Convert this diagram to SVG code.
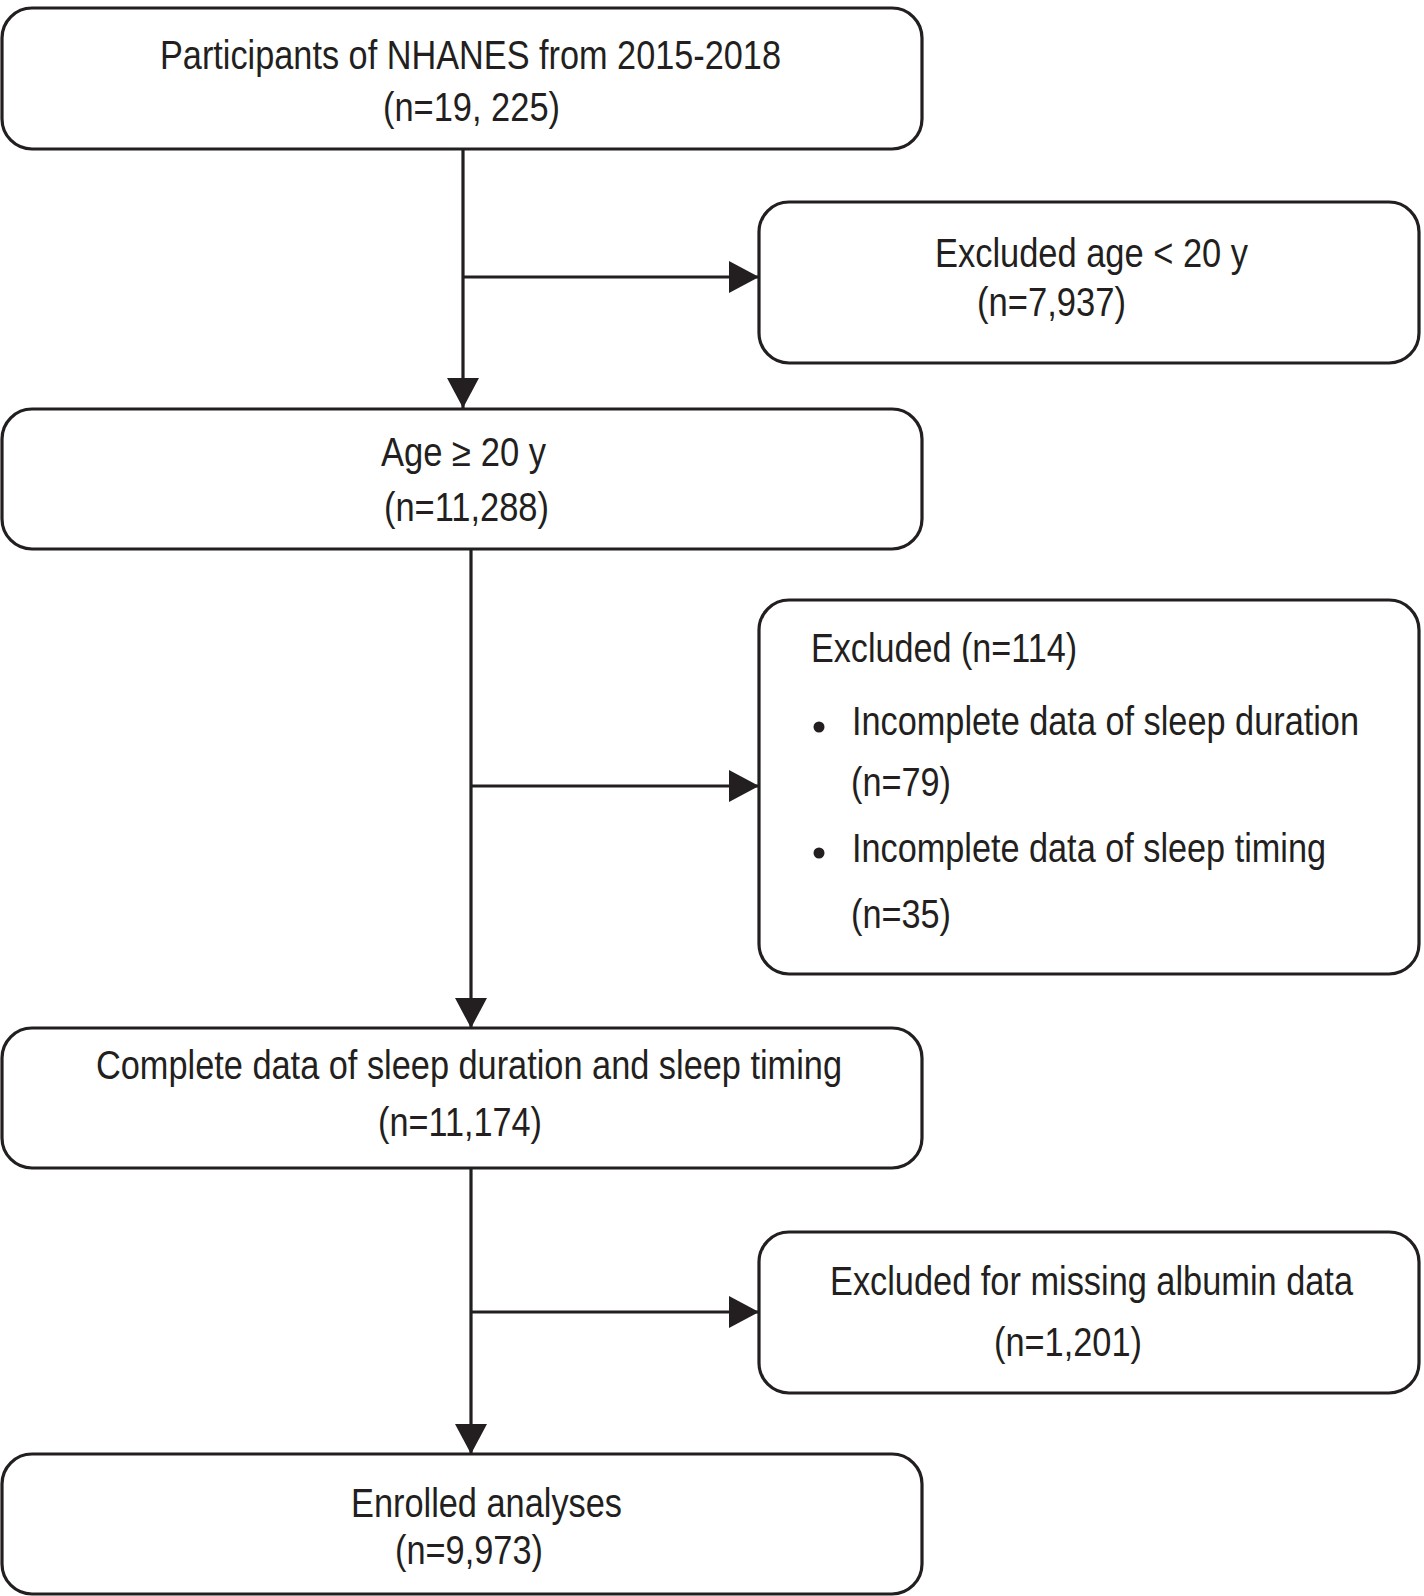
<svg xmlns="http://www.w3.org/2000/svg" width="1424" height="1596" viewBox="0 0 1424 1596">
<style>
.box{fill:#ffffff;stroke:#231f20;stroke-width:3.2}
.t{font-family:"Liberation Sans Narrow","Liberation Sans",Arial,sans-serif;font-size:40px;fill:#231f20}
.c{text-anchor:middle}
.ln{stroke:#231f20;stroke-width:3.2;fill:none}
</style>
<defs>
<marker id="ah" markerUnits="userSpaceOnUse" markerWidth="30" markerHeight="32" refX="30" refY="16" orient="auto">
<path d="M0,0 L30,16 L0,32 Z" fill="#231f20"/>
</marker>
</defs>
<rect width="1424" height="1596" fill="#ffffff"/>
<g id="connectors">
<line class="ln" x1="463" y1="149" x2="463" y2="408" marker-end="url(#ah)"/>
<line class="ln" x1="463" y1="277" x2="759" y2="277" marker-end="url(#ah)"/>
<line class="ln" x1="471" y1="549" x2="471" y2="1028" marker-end="url(#ah)"/>
<line class="ln" x1="471" y1="786" x2="759" y2="786" marker-end="url(#ah)"/>
<line class="ln" x1="471" y1="1168" x2="471" y2="1454" marker-end="url(#ah)"/>
<line class="ln" x1="471" y1="1312" x2="759" y2="1312" marker-end="url(#ah)"/>
</g>
<g id="node-participants">
<rect class="box" x="2" y="8" width="920" height="141" rx="30" ry="30"/>
<text class="t" x="160" y="69" textLength="621" lengthAdjust="spacingAndGlyphs">Participants of NHANES from 2015-2018</text>
<text class="t" x="383" y="121" textLength="177" lengthAdjust="spacingAndGlyphs">(n=19, 225)</text>
</g>
<g id="node-excluded-age">
<rect class="box" x="759" y="202" width="660" height="161" rx="30" ry="30"/>
<text class="t" x="935" y="267" textLength="313" lengthAdjust="spacingAndGlyphs">Excluded age &lt; 20 y</text>
<text class="t" x="977" y="316" textLength="149" lengthAdjust="spacingAndGlyphs">(n=7,937)</text>
</g>
<g id="node-age20">
<rect class="box" x="2" y="409" width="920" height="140" rx="30" ry="30"/>
<text class="t" x="381" y="466" textLength="165" lengthAdjust="spacingAndGlyphs">Age ≥ 20 y</text>
<text class="t" x="384" y="521" textLength="165" lengthAdjust="spacingAndGlyphs">(n=11,288)</text>
</g>
<g id="node-excluded-sleep">
<rect class="box" x="759" y="600" width="660" height="374" rx="30" ry="30"/>
<text class="t" x="811" y="662" textLength="266" lengthAdjust="spacingAndGlyphs">Excluded (n=114)</text>
<circle cx="819" cy="727" r="5.5" fill="#231f20"/>
<text class="t" x="852" y="735" textLength="507" lengthAdjust="spacingAndGlyphs">Incomplete data of sleep duration</text>
<text class="t" x="851" y="796" textLength="100" lengthAdjust="spacingAndGlyphs">(n=79)</text>
<circle cx="819" cy="853" r="5.5" fill="#231f20"/>
<text class="t" x="852" y="862" textLength="474" lengthAdjust="spacingAndGlyphs">Incomplete data of sleep timing</text>
<text class="t" x="851" y="928" textLength="100" lengthAdjust="spacingAndGlyphs">(n=35)</text>
</g>
<g id="node-complete">
<rect class="box" x="2" y="1028" width="920" height="140" rx="30" ry="30"/>
<text class="t" x="96" y="1079" textLength="746" lengthAdjust="spacingAndGlyphs">Complete data of sleep duration and sleep timing</text>
<text class="t" x="378" y="1136" textLength="164" lengthAdjust="spacingAndGlyphs">(n=11,174)</text>
</g>
<g id="node-excluded-albumin">
<rect class="box" x="759" y="1232" width="660" height="161" rx="30" ry="30"/>
<text class="t" x="830" y="1295" textLength="523" lengthAdjust="spacingAndGlyphs">Excluded for missing albumin data</text>
<text class="t" x="994" y="1356" textLength="148" lengthAdjust="spacingAndGlyphs">(n=1,201)</text>
</g>
<g id="node-enrolled">
<rect class="box" x="2" y="1454" width="920" height="140" rx="30" ry="30"/>
<text class="t" x="351" y="1517" textLength="271" lengthAdjust="spacingAndGlyphs">Enrolled analyses</text>
<text class="t" x="395" y="1564" textLength="148" lengthAdjust="spacingAndGlyphs">(n=9,973)</text>
</g>
</svg>
